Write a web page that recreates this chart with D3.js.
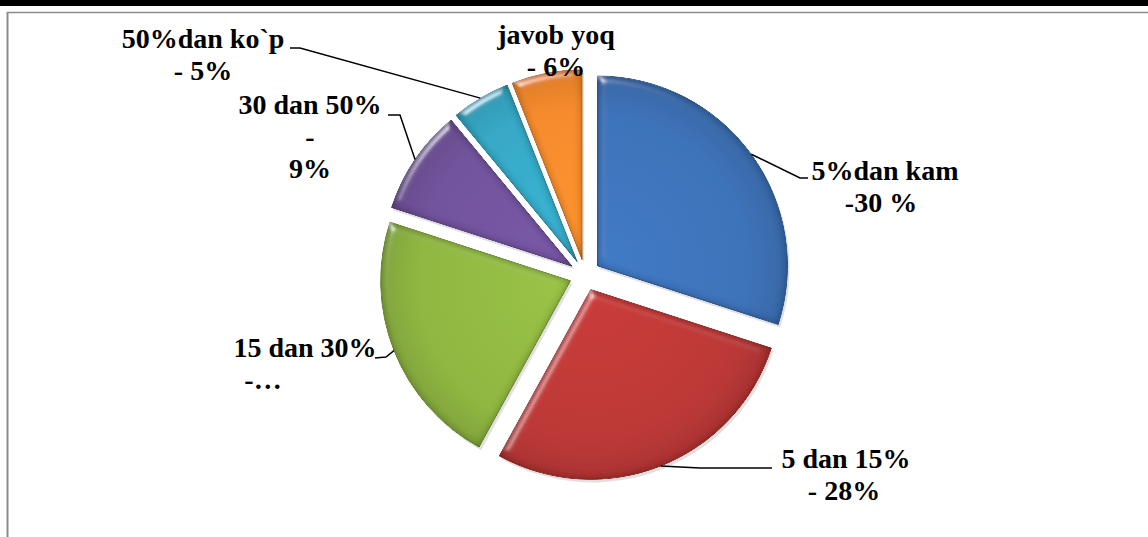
<!DOCTYPE html>
<html>
<head>
<meta charset="utf-8">
<script src="https://cdn.jsdelivr.net/npm/d3@7"></script>
<style>
  html, body { margin: 0; padding: 0; background: #fff; overflow: hidden; }
  svg { display: block; }
</style>
</head>
<body>
<svg id="chart" width="1148" height="537"></svg>
<script>
// data
const categories = ["5%dan kam", "5 dan 15%", "15 dan 30%", "30 dan 50%", "50%dan ko`p", "javob yoq"];
const values = [30, 28, 22, 9, 5, 6];
const labelLines = [
  ["5%dan kam", "-30 %"],
  ["5 dan 15%", "- 28%"],
  ["15 dan 30%", "-…"],
  ["30 dan 50%", "-", "9%"],
  ["50%dan ko`p", "- 5%"],
  ["javob yoq", "- 6%"]
];
const colors = ["#3c72b8", "#bc3634", "#8fb640", "#71529c", "#34a9c6", "#f58a2a"];

// layout
const width = 1148, height = 537;
const cx = 585, cy = 275, radius = 190, explode = 15.5;
// label anchor (center x, first baseline y) + leader elbow/end
const labelLayout = [
  { x: 885, y: 180, dx: [0, -4], leader: [[800, 178], [808, 178]] },
  { x: 846, y: 468, dx: [0, -2], leader: [[700, 468], [772, 468]] },
  { x: 305, y: 357, dx: [0, -42], leader: [[386, 357], [375, 358]] },
  { x: 310, y: 114, dx: [0, 0, 0], leader: [[400, 115], [388, 115]] },
  { x: 203, y: 48, dx: [0, 0], leader: [[300, 48], [290, 48]] },
  { x: 556, y: 44, dx: [0, 0], leader: null }
];
const lineH = 32;

const svg = d3.select("#chart");

// frame
svg.append("rect").attr("x", 0).attr("y", 0).attr("width", width).attr("height", 6).attr("fill", "#000");
svg.append("line").attr("x1", 7).attr("x2", width).attr("y1", 12.5).attr("y2", 12.5)
  .attr("stroke", "#8c8c8c").attr("stroke-width", 1.5);
svg.append("line").attr("x1", 7.5).attr("x2", 7.5).attr("y1", 12).attr("y2", height)
  .attr("stroke", "#8c8c8c").attr("stroke-width", 2);

const defs = svg.append("defs");
const f = defs.append("filter").attr("id", "bevel").attr("x", "-10%").attr("y", "-10%")
  .attr("width", "120%").attr("height", "120%");
f.append("feGaussianBlur").attr("in", "SourceAlpha").attr("stdDeviation", 4).attr("result", "blur");
const spec = f.append("feSpecularLighting").attr("in", "blur").attr("surfaceScale", 5)
  .attr("specularConstant", 0.7).attr("specularExponent", 35).attr("lighting-color", "#ffffff")
  .attr("result", "spec");
spec.append("feDistantLight").attr("azimuth", 235).attr("elevation", 30);
f.append("feComposite").attr("in", "spec").attr("in2", "SourceAlpha").attr("operator", "in").attr("result", "specIn");
// dark inner rim
f.append("feComposite").attr("in", "SourceAlpha").attr("in2", "blur").attr("operator", "arithmetic")
  .attr("k2", 1).attr("k3", -1).attr("result", "rim");
f.append("feColorMatrix").attr("in", "rim").attr("type", "matrix")
  .attr("values", "0 0 0 0 0  0 0 0 0 0  0 0 0 0 0  0 0 0 0.7 0").attr("result", "rimDark");
f.append("feComposite").attr("in", "SourceGraphic").attr("in2", "specIn").attr("operator", "arithmetic")
  .attr("k2", 1).attr("k3", 0.8).attr("result", "lit");
f.append("feComposite").attr("in", "rimDark").attr("in2", "lit").attr("operator", "over").attr("result", "withRim");
f.append("feComposite").attr("in", "withRim").attr("in2", "SourceAlpha").attr("operator", "in");

colors.forEach((c, i) => {
  const g = defs.append("radialGradient").attr("id", "grad" + i)
    .attr("gradientUnits", "userSpaceOnUse").attr("cx", 0).attr("cy", 0).attr("r", radius);
  g.append("stop").attr("offset", "0%").attr("stop-color", d3.color(c).brighter(0.2));
  g.append("stop").attr("offset", "80%").attr("stop-color", c);
  g.append("stop").attr("offset", "100%").attr("stop-color", d3.color(c).darker(0.3));
});

const pie = d3.pie().value(d => d).sort(null);
const arcs = pie(values);
const arc = d3.arc().innerRadius(0).outerRadius(radius);
const mid = d => (d.startAngle + d.endAngle) / 2;
const offset = (d, r) => [Math.sin(mid(d)) * r, -Math.cos(mid(d)) * r];

const pieG = svg.append("g").attr("transform", `translate(${cx},${cy})`);

// soft shadow
pieG.selectAll("path.shadow").data(arcs).join("path").attr("class", "shadow")
  .attr("d", arc)
  .attr("transform", d => { const o = offset(d, explode); return `translate(${o[0] + 2},${o[1] + 3})`; })
  .attr("fill", "#000").attr("opacity", 0.12);

pieG.selectAll("path.slice").data(arcs).join("path").attr("class", "slice")
  .attr("d", arc)
  .attr("transform", d => { const o = offset(d, explode); return `translate(${o[0]},${o[1]})`; })
  .attr("fill", (d, i) => `url(#grad${i})`)
  .attr("stroke", (d, i) => d3.color(colors[i]).darker(0.6))
  .attr("stroke-width", 1)
  .attr("filter", "url(#bevel)");

// leader lines
const leaderG = svg.append("g");
arcs.forEach((d, i) => {
  const L = labelLayout[i];
  if (!L.leader) return;
  const o = offset(d, explode);
  const p = offset(d, radius);
  const start = [cx + o[0] + p[0], cy + o[1] + p[1]];
  leaderG.append("polyline")
    .attr("points", [start, ...L.leader].map(q => q.join(",")).join(" "))
    .attr("fill", "none").attr("stroke", "#000").attr("stroke-width", 1.5);
});

// labels
const lblG = svg.append("g");
labelLines.forEach((lines, i) => {
  const L = labelLayout[i];
  const t = lblG.append("text")
    .attr("font-family", "'Liberation Serif', 'Times New Roman', 'DejaVu Serif', serif")
    .attr("font-weight", "bold").attr("font-size", 28).attr("fill", "#000")
    .attr("text-anchor", "middle");
  lines.forEach((s, j) => {
    t.append("tspan").attr("x", L.x + L.dx[j]).attr("y", L.y + j * lineH).text(s);
  });
});
</script>
</body>
</html>
